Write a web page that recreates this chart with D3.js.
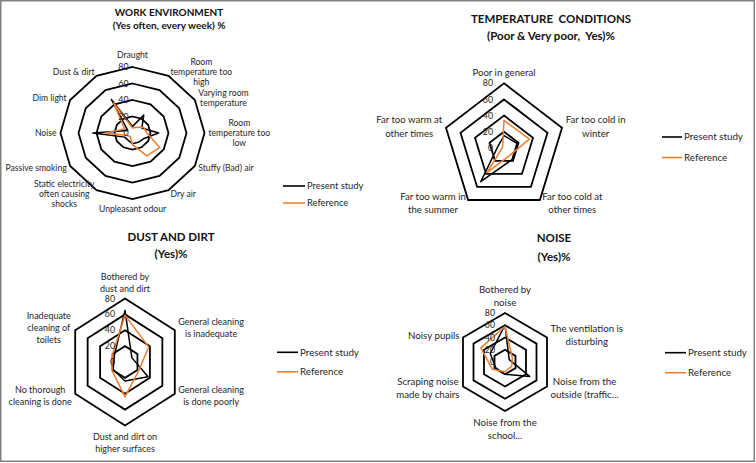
<!DOCTYPE html>
<html><head><meta charset="utf-8">
<script src="https://cdn.jsdelivr.net/npm/d3@7"></script>
<style>body{margin:0;background:#fff}svg{display:block;font-family:Lato,'Open Sans',sans-serif}text{white-space:pre}</style>
</head><body><svg id="c" width="756" height="463"></svg>
<script>
const ticks = [0, 20, 40, 60, 80];
const seriesNames = ["Present study", "Reference"];
const seriesColors = ["#000000", "#ED7D31"];

const workCats = ["Draught", "Room\ntemperature too\nhigh", "Varying room\ntemperature", "Room\ntemperature too\nlow", "Stuffy (Bad) air", "Dry air", "Unpleasant odour", "Static electricity\noften causing\nshocks", "Passive smoking", "Noise", "Dim light", "Dust & dirt"];
const workPresent = [8, 25, 12, 29, 14, 13, 13, 10, 10, 44, 6, 47];
const workReference = [6, 8, 14, 16, 35, 32, 14, 5, 6, 30, 10, 42];

const tempCats = ["Poor in general", "Far too cold in\nwinter", "Far too cold at\nother times", "Far too warm in\nthe summer", "Far too warm at\nother times"];
const tempPresent = [15, 18, 18, 52, 8];
const tempReference = [34, 35, 12, 38, 2];

const dustCats = ["Bothered by\ndust and dirt", "General cleaning\nis inadequate", "General cleaning\nis done poorly", "Dust and dirt on\nhigher surfaces", "No thorough\ncleaning is done", "Inadequate\ncleaning of\ntoilets"];
const dustPresent = [65, 11, 37, 24, 19, 17];
const dustReference = [59, 38, 22, 44, 21, 20];

const noiseCats = ["Bothered by\nnoise", "The ventilation is\ndisturbing", "Noise from the\noutside (traffic...", "Noise from the\nschool...", "Scraping noise\nmade by chairs", "Noisy pupils"];
const noisePresent = [60, 8, 47, 20, 18, 28];
const noiseReference = [58, 14, 13, 16, 24, 46];

const charts = [
  {title: ["WORK ENVIRONMENT", "(Yes often, every week) %"], titleX: 169, titleY: [12.7, 25.3], titleSize: 10,
   cats: workCats, present: workPresent, reference: workReference,
   cx: 132.5, cy: 133, rx: 72, ry: 66, labelSize: 8.6, lineH: 10, tickSize: 8.8, tickDx: 4, topGap: 7,
   legendX: 283, legendY: 186, legendDy: 17, legendW: 22, legendSize: 9.4},
  {title: ["TEMPERATURE  CONDITIONS", "(Poor & Very poor,  Yes)%"], titleX: 551, titleY: [19.3, 36], titleSize: 11.5,
   cats: tempCats, present: tempPresent, reference: tempReference,
   cx: 504, cy: 147.8, rx: 61, ry: 64.5, labelSize: 9.6, lineH: 13.3, tickSize: 8.8, tickDx: 11, topGap: 4,
   legendX: 662, legendY: 137, legendDy: 20.5, legendW: 20, legendSize: 9.8},
  {title: ["DUST AND DIRT", "(Yes)%"], titleX: 171, titleY: [236.7, 254.3], titleSize: 11.5,
   cats: dustCats, present: dustPresent, reference: dustReference,
   cx: 125, cy: 362, rx: 57.5, ry: 63.5, labelSize: 9, lineH: 12, tickSize: 8.8, tickDx: 10, topGap: 4,
   legendX: 277, legendY: 352.3, legendDy: 19.5, legendW: 21, legendSize: 9.8},
  {title: ["NOISE", "(Yes)%"], titleX: 554, titleY: [238.3, 256.7], titleSize: 11.5,
   cats: noiseCats, present: noisePresent, reference: noiseReference,
   cx: 505, cy: 362, rx: 48.5, ry: 49, labelSize: 9.7, lineH: 13, tickSize: 8.8, tickDx: 10, topGap: 4,
   legendX: 665, legendY: 352.7, legendDy: 20, legendW: 21, legendSize: 9.8}
];

const svg = d3.select("#c");
svg.append("rect").attr("x", 0.75).attr("y", 0.75).attr("width", 753.5).attr("height", 460.5)
  .attr("fill", "#fff").attr("stroke", "#808080").attr("stroke-width", 1.5);

function drawRadar(cfg) {
  const g = svg.append("g");
  const n = cfg.cats.length;
  const ang = d3.scaleLinear().domain([0, n]).range([0, 2 * Math.PI]);
  const rX = d3.scaleLinear().domain([0, 80]).range([0, cfg.rx]);
  const rY = d3.scaleLinear().domain([0, 80]).range([0, cfg.ry]);
  const pt = (i, v) => [cfg.cx + rX(v) * Math.sin(ang(i)), cfg.cy - rY(v) * Math.cos(ang(i))];
  const line = d3.line().curve(d3.curveLinearClosed);

  cfg.title.forEach((t, j) => {
    g.append("text").attr("x", cfg.titleX).attr("y", cfg.titleY[j]).attr("dy", "0.35em")
      .attr("text-anchor", "middle").attr("font-weight", "bold").attr("font-size", cfg.titleSize)
      .attr("fill", "#111").text(t);
  });

  ticks.filter(t => t > 0).forEach(t => {
    g.append("path").attr("d", line(d3.range(n).map(i => pt(i, t))))
      .attr("fill", "none").attr("stroke", "#000").attr("stroke-width", 1.8).attr("stroke-linejoin", "miter");
  });

  [cfg.present, cfg.reference].forEach((vals, k) => {
    g.append("path").attr("d", line(vals.map((v, i) => pt(i, v))))
      .attr("fill", "none").attr("stroke", seriesColors[k]).attr("stroke-width", 1.5).attr("stroke-linejoin", "round");
  });

  ticks.forEach(t => {
    g.append("text").attr("x", cfg.cx - cfg.tickDx).attr("y", cfg.cy - rY(t)).attr("dy", "0.35em")
      .attr("text-anchor", "end").attr("font-size", cfg.tickSize).attr("fill", "#262626").text(t);
  });

  const gap = 4;
  cfg.cats.forEach((c, i) => {
    const a = ang(i), s = Math.sin(a), co = Math.cos(a);
    const ax = cfg.cx + (cfg.rx + gap) * s;
    const ay = co > 0.95 ? cfg.cy - cfg.ry - cfg.topGap : cfg.cy - (cfg.ry + gap) * co;
    const lines = c.split("\n");
    const t = g.append("text").attr("font-size", cfg.labelSize).attr("fill", "#262626");
    const sp = lines.map(l => t.append("tspan").text(l));
    const W = d3.max(sp, x => x.node().getComputedTextLength());
    const mx = Math.abs(s) < 0.05 ? ax : (s > 0 ? ax + W / 2 : ax - W / 2);
    const H = lines.length * cfg.lineH;
    const top = co > 0.95 ? ay - H : (co < -0.95 ? ay + 1 : ay - H / 2);
    sp.forEach((x, j) => x.attr("x", mx).attr("y", top + cfg.lineH * (j + 0.5)).attr("dy", "0.35em").attr("text-anchor", "middle"));
  });

  seriesNames.forEach((nm, k) => {
    const y = cfg.legendY + k * cfg.legendDy;
    g.append("line").attr("x1", cfg.legendX).attr("x2", cfg.legendX + cfg.legendW).attr("y1", y).attr("y2", y)
      .attr("stroke", seriesColors[k]).attr("stroke-width", 1.6);
    g.append("text").attr("x", cfg.legendX + cfg.legendW + 2).attr("y", y).attr("dy", "0.35em")
      .attr("font-size", cfg.legendSize).attr("fill", "#262626").text(nm);
  });
}

charts.forEach(drawRadar);
</script></body></html>
